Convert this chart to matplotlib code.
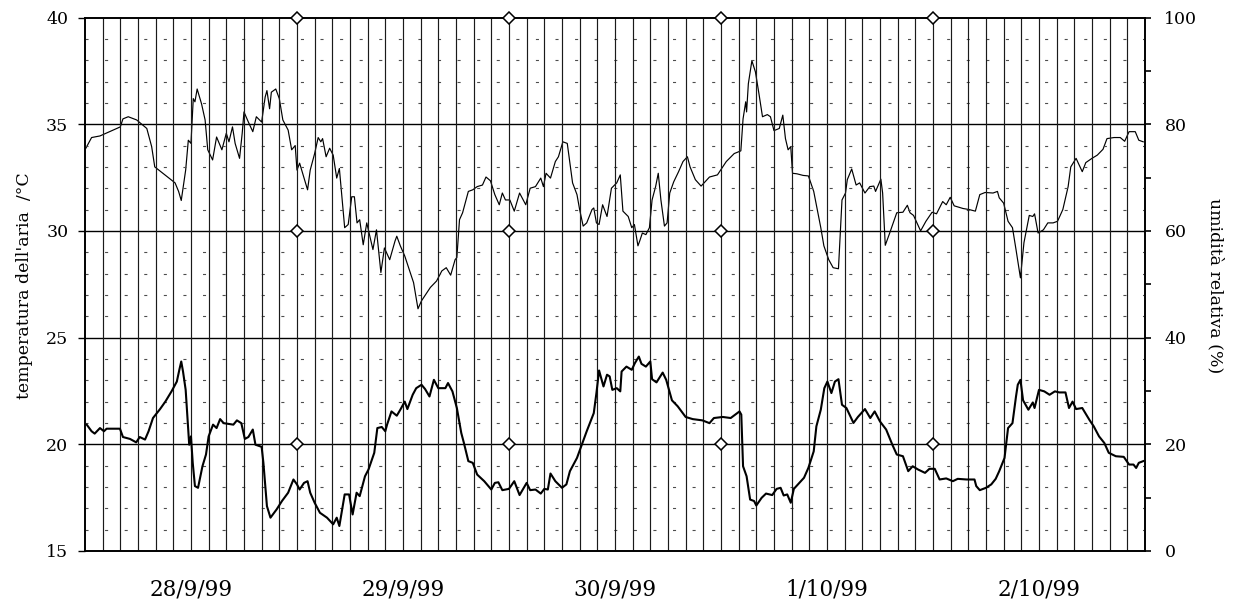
import numpy as np
import matplotlib
matplotlib.use("Agg")
import matplotlib.pyplot as plt
from matplotlib.ticker import MultipleLocator

plt.rcParams.update({
    "font.family": "DejaVu Serif",
    "axes.linewidth": 1.2,
})

# ---------- data (hours from 28/9/99 00:00) ----------
hum_t = [0.1, 0.75, 1.7, 2.8, 3.6, 4.0, 4.3, 4.9, 5.85, 7.0, 7.55, 7.9, 9.05, 10.2, 10.6, 10.9,
         11.4, 11.7, 12.0, 12.26, 12.45, 12.7, 13.2, 13.6, 13.9, 14.45, 14.9, 15.5, 16.0, 16.3,
         16.7, 17.0, 17.5, 17.8, 18.0, 18.5, 19.0, 19.4, 20.0, 20.4, 20.6, 20.9, 21.1, 21.6,
         22.0, 22.4, 23.0, 23.4, 23.8, 24.0, 24.3, 24.8, 25.2, 25.5, 26.0, 26.4, 26.7, 26.9,
         27.3, 27.7, 28.1, 28.5, 28.8, 29.4, 29.8, 30.2, 30.5, 30.8, 31.1, 31.5, 31.9, 32.6,
         33.0, 33.5, 33.9, 34.5, 35.1, 35.3, 35.7, 36.2, 37.2, 37.7, 38.1, 39.1, 39.8, 40.4,
         40.9, 41.4, 41.9, 42.1, 42.4, 42.75, 43.4, 43.9, 44.4, 45.0, 45.4, 45.9, 46.4, 46.9,
         47.25, 47.6, 48.1, 48.6, 49.2, 49.9, 50.4, 51.0, 51.6, 51.9, 52.2, 52.7, 53.25, 53.6,
         54.1, 54.6, 54.9, 55.2, 55.7, 56.0, 56.4, 56.8, 57.4, 57.6, 57.9, 58.2, 58.6, 59.1,
         59.6, 60.2, 60.6, 60.9, 61.5, 61.9, 62.2, 62.6, 62.8, 63.1, 63.5, 63.9, 64.2, 64.6,
         64.9, 65.2, 65.6, 65.9, 66.2, 66.65, 67.2, 67.7, 68.2, 68.5, 69.1, 69.75, 70.7, 71.6,
         72.6, 73.5, 74.25, 74.5, 74.8, 74.9, 75.1, 75.5, 75.9, 76.3, 76.7, 77.25, 77.6, 78.0,
         78.6, 79.0, 79.3, 79.6, 79.9, 80.1, 80.6, 81.3, 81.9, 82.5, 82.9, 83.3, 83.65, 84.2,
         84.7, 85.3, 85.7, 86.1, 86.3, 86.8, 87.3, 87.7, 88.3, 88.85, 89.3, 89.5, 90.1, 90.3,
         90.6, 91.1, 91.9, 92.6, 93.1, 93.4, 93.8, 94.6, 95.2, 95.9, 96.4, 97.1, 97.5, 97.95,
         98.4, 99.4, 100.1, 100.8, 101.3, 101.9, 102.8, 103.3, 103.5, 104.0, 104.5, 105.0,
         105.4, 105.9, 106.3, 106.9, 107.3, 107.5, 107.9, 108.5, 109.0, 109.6, 110.1, 110.7,
         111.3, 111.6, 112.2, 112.9, 113.3, 114.0, 114.6, 115.25, 115.7, 116.5, 117.2, 117.7,
         118.2, 118.9, 119.3, 119.8]
hum_val = [75.5, 77.5, 77.8, 78.6, 79.2, 79.5, 81.0, 81.4, 80.8, 79.2, 75.8, 72.0, 70.5, 69.0, 67.4, 65.7,
           71.4, 77.0, 76.4, 84.8, 84.2, 86.6, 83.8, 80.8, 75.2, 73.3, 77.6, 75.2, 78.3, 76.7,
           79.5, 76.4, 73.6, 78.3, 82.3, 80.4, 78.6, 81.4, 80.4, 85.1, 86.3, 82.9, 86.0, 86.6,
           84.8, 80.8, 78.9, 75.2, 76.0, 71.4, 72.7, 69.9, 67.7, 71.4, 74.5, 77.5, 76.7, 77.3,
           73.9, 75.5, 74.2, 69.9, 71.7, 60.6, 61.2, 66.4, 66.4, 61.5, 62.1, 57.4, 61.5, 56.5,
           60.2, 52.2, 56.8, 54.6, 58.1, 59.0, 57.2, 55.3, 50.3, 45.4, 46.9, 49.4, 50.6, 52.5,
           53.1, 51.7, 54.6, 55.0, 62.1, 63.4, 67.4, 67.7, 68.3, 68.6, 70.1, 69.4, 66.8, 64.9,
           67.1, 65.8, 65.8, 63.7, 67.1, 64.9, 68.0, 68.3, 69.9, 68.3, 70.8, 69.9, 73.0, 73.9,
           76.7, 76.4, 72.7, 69.0, 66.8, 64.0, 60.9, 61.5, 64.0, 64.3, 61.5, 61.2, 64.9, 62.7,
           68.0, 69.0, 70.5, 63.7, 62.7, 60.6, 61.2, 57.2, 58.1, 59.6, 59.3, 60.6, 65.8, 68.3,
           70.8, 65.8, 60.9, 61.5, 67.1, 69.2, 71.1, 73.0, 73.9, 72.0, 69.6, 68.4, 70.1, 70.5,
           73.0, 74.5, 75.0, 81.0, 84.2, 82.3, 87.6, 91.9, 89.8, 85.7, 81.4, 81.8, 81.4, 78.8,
           79.2, 81.7, 77.3, 75.2, 75.8, 70.8, 70.7, 70.4, 70.3, 67.4, 64.0, 60.6, 57.2, 54.6,
           53.1, 52.9, 65.8, 67.1, 69.6, 71.6, 68.6, 69.0, 67.1, 68.3, 68.4, 67.4, 69.7, 67.1,
           57.3, 59.6, 63.4, 63.5, 64.8, 63.4, 62.9, 60.0, 61.8, 63.5, 63.2, 65.5, 64.9, 66.3,
           64.7, 64.2, 64.0, 63.7, 66.8, 67.2, 67.1, 67.4, 66.2, 65.2, 61.8, 60.6,
           56.5, 51.2, 57.8, 62.9, 62.7, 63.2, 59.6, 60.2, 61.5, 61.5, 61.8, 64.0,
           68.3, 72.0, 73.6, 71.1, 72.8, 73.6, 74.2, 75.3, 77.3, 77.5, 77.5, 76.8,
           78.6, 78.6, 77.0, 76.7]

temp_t = [0.2, 0.75, 1.1, 1.7, 2.15, 2.45, 3.96, 4.3, 5.1, 5.8, 6.2, 6.8, 7.2, 7.7, 8.5, 9.1, 9.8,
          10.4, 10.7, 10.9, 11.1, 11.4, 11.8, 12.0, 12.2, 12.45, 12.8, 13.3, 13.7, 14.0, 14.5,
          14.9, 15.3, 15.7, 16.8, 17.2, 17.7, 18.1, 18.5, 19.0, 19.3, 20.0, 20.2, 20.6, 21.0,
          21.7, 22.3, 23.0, 23.6, 24.0, 24.3, 24.8, 25.2, 25.5, 26.0, 26.6, 27.4, 28.1, 28.5,
          28.8, 29.4, 29.9, 30.3, 30.75, 31.1, 31.7, 32.1, 32.75, 33.1, 33.6, 34.0, 34.2, 34.7,
          35.3, 35.7, 36.2, 36.5, 37.1, 37.5, 38.1, 38.5, 39.0, 39.5, 40.0, 40.8, 41.1, 41.6,
          42.1, 42.6, 42.9, 43.4, 43.9, 44.4, 45.2, 46.0, 46.4, 46.8, 47.25, 48.0, 48.6, 49.2,
          50.0, 50.4, 51.0, 51.6, 52.0, 52.4, 52.7, 53.25, 54.0, 54.5, 54.9, 55.7, 56.25, 56.8,
          57.6, 57.9, 58.2, 58.7, 59.1, 59.4, 59.7, 60.2, 60.6, 60.75, 61.3, 61.9, 62.25, 62.7,
          63.0, 63.5, 64.0, 64.2, 64.7, 65.4, 65.8, 66.45, 67.1, 68.0, 68.8, 69.9, 70.7, 71.2,
          72.2, 73.1, 74.1, 74.3, 74.5, 74.9, 75.3, 75.75, 76.0, 76.6, 77.1, 77.8, 78.3, 78.75,
          79.1, 79.5, 79.9, 80.25, 80.8, 81.4, 81.9, 82.5, 82.8, 83.3, 83.7, 84.05, 84.5, 84.9,
          85.3, 85.7, 86.2, 87.0, 87.5, 88.3, 88.9, 89.4, 90.0, 90.7, 91.4, 91.9, 92.6, 93.2,
          93.7, 94.3, 95.1, 95.6, 96.2, 96.75, 97.5, 98.25, 98.8, 99.8, 100.7, 100.9, 101.3,
          102.0, 102.6, 103.1, 103.5, 104.1, 104.5, 105.0, 105.4, 105.6, 105.9, 106.2, 106.8,
          107.3, 107.5, 108.0, 108.6, 109.2, 109.8, 110.3, 111.0, 111.4, 111.8, 112.2, 112.9,
          113.7, 114.2, 114.8, 115.4, 115.9, 116.7, 117.6, 118.2, 118.7, 119.0, 119.3, 119.8]
temp_val = [20.92, 20.61, 20.5, 20.76, 20.61, 20.73, 20.73, 20.34, 20.25, 20.09, 20.34, 20.22, 20.61,
            21.23, 21.65, 22.0, 22.48, 22.94, 23.52, 23.88, 23.41, 22.55, 19.98, 20.37, 19.13,
            18.04, 17.96, 18.97, 19.52, 20.37, 20.92, 20.76, 21.18, 20.99, 20.92, 21.12, 20.99,
            20.25, 20.34, 20.69, 19.98, 19.88, 19.13, 17.1, 16.56, 16.95, 17.34, 17.73, 18.35,
            18.12, 17.88, 18.19, 18.27, 17.73, 17.26, 16.79, 16.56, 16.25, 16.56, 16.17, 17.65,
            17.65, 16.71, 17.73, 17.57, 18.5, 18.82, 19.6, 20.76, 20.81, 20.61, 20.92, 21.54,
            21.34, 21.62, 22.0, 21.65, 22.32, 22.63, 22.79, 22.59, 22.24, 23.02, 22.63, 22.63,
            22.87, 22.48, 21.7, 20.53, 20.06, 19.21, 19.13, 18.58, 18.27, 17.88, 18.19, 18.22,
            17.85, 17.91, 18.27, 17.62, 18.19, 17.85, 17.88, 17.69, 17.91, 17.88, 18.63, 18.27,
            17.96, 18.12, 18.74, 19.36, 19.98, 20.61, 21.46, 22.4, 23.46, 22.71, 23.26, 23.18,
            22.55, 22.63, 22.48, 23.41, 23.64, 23.49, 23.8, 24.11, 23.77, 23.64, 23.88, 23.05,
            22.9, 23.36, 23.02, 22.06, 21.78, 21.28, 21.18, 21.12, 20.99, 21.23, 21.28, 21.23,
            21.54, 21.39, 18.97, 18.5, 17.41, 17.34, 17.13, 17.49, 17.69, 17.62, 17.91, 17.96,
            17.6, 17.65, 17.26, 17.91, 18.16, 18.43, 18.9, 19.67, 20.84, 21.62, 22.63, 22.94,
            22.4, 22.94, 23.05, 21.85, 21.7, 21.0, 21.28, 21.65, 21.23, 21.54, 21.07, 20.69,
            19.98, 19.52, 19.44, 18.74, 18.97, 18.82, 18.66, 18.85, 18.85, 18.35, 18.4, 18.27,
            18.38, 18.35, 18.35, 18.04, 17.85, 17.96, 18.12, 18.38, 18.74, 19.36, 20.76, 20.99,
            22.24, 22.79, 23.02, 22.06, 21.62, 21.96, 21.7, 22.55, 22.48, 22.32, 22.48, 22.43,
            22.43, 21.7, 22.0, 21.65, 21.7, 21.15, 20.84, 20.37, 20.06, 19.6, 19.44, 19.41,
            19.05, 19.05, 18.89, 19.13, 19.21]

day_labels = ["28/9/99", "29/9/99", "30/9/99", "1/10/99", "2/10/99"]
day_marks = [24, 48, 72, 96]          # midnight markers
mark_levels = [40, 30, 20]            # temperature levels of the diamonds

# ---------- figure ----------
fig = plt.figure(figsize=(12.44, 6.08), dpi=100)
ax = fig.add_axes([0.0683, 0.0938, 0.8521, 0.8774])
ax2 = ax.twinx()

ax.set_xlim(0, 120)
ax.set_ylim(15, 40)
ax2.set_ylim(0, 100)

# grid: minor dashed every 1 degC, major solid every 5, vertical every 2 h
lw_min = 0.8
for v in np.arange(16, 40):
    if v % 5 == 0:
        continue
    ax.axhline(v, color="0.3", lw=lw_min, ls=(0, (2.2 / lw_min, 11.9 / lw_min)), zorder=1)
for v in [20, 25, 30, 35]:
    ax.axhline(v, color="black", lw=1.0, zorder=1)
ax.vlines(np.arange(2, 120, 2), 15, 40, color="0.1", lw=0.85, zorder=1)

ax2.plot(hum_t, hum_val, color="black", lw=0.85, zorder=3)
ax.plot(temp_t, temp_val, color="black", lw=1.5, zorder=3)

# day diamonds
for d in day_marks:
    ax.plot([d] * len(mark_levels), mark_levels, ls="none", marker="D", ms=6.5,
            mfc="white", mec="black", mew=1.1, clip_on=False, zorder=6)
ax.set_zorder(ax2.get_zorder() + 1)
ax.patch.set_visible(False)

# x axis: day labels centred
ax.set_xticks([12 + 24 * i for i in range(5)])
ax.set_xticklabels(day_labels, fontsize=15.5)
ax.tick_params(axis="x", length=0, pad=20)

ax.yaxis.set_major_locator(MultipleLocator(5))
ax.tick_params(axis="y", direction="out", length=5, width=1, labelsize=12.5, pad=7)
ax2.yaxis.set_major_locator(MultipleLocator(20))
ax2.yaxis.set_minor_locator(MultipleLocator(10))
ax2.tick_params(axis="y", which="both", direction="out", length=4, width=1.2, labelsize=12.5, pad=10)

fig.text(0.020, 0.53, "temperatura dell'aria  /\u00b0C", rotation=90,
         ha="center", va="center", fontsize=12.5)
fig.text(0.977, 0.53, "umidit\u00e0 relativa (%)", rotation=270,
         ha="center", va="center", fontsize=12.5)

fig.savefig("out.png", dpi=100)
